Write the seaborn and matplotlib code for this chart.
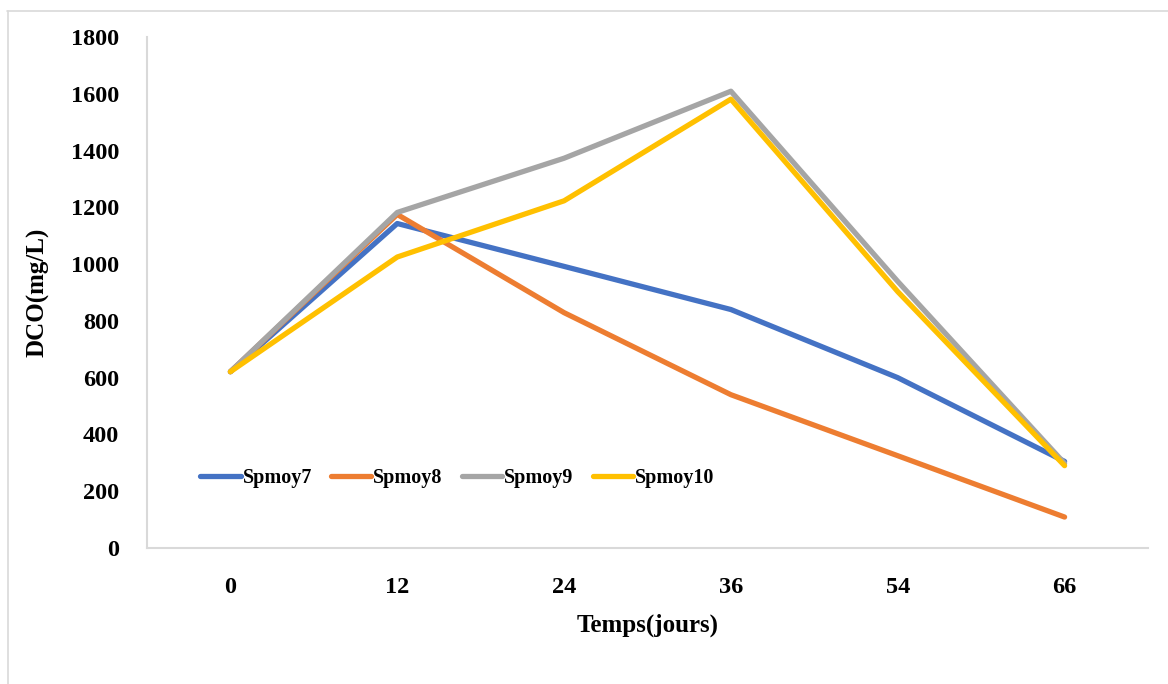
import matplotlib
matplotlib.use("Agg")
import matplotlib.pyplot as plt
import seaborn as sns
import pandas as pd
from matplotlib.lines import Line2D

days = ["0", "12", "24", "36", "54", "66"]
spmoy7 = [621, 1143, 992, 840, 600, 305]
spmoy8 = [621, 1175, 829, 540, 325, 109]
spmoy9 = [621, 1182, 1373, 1609, 939, 298]
spmoy10 = [621, 1025, 1223, 1581, 903, 290]
series_names = ["Spmoy7", "Spmoy8", "Spmoy9", "Spmoy10"]
colors = ["#4472C4", "#ED7D31", "#A5A5A5", "#FFC000"]
yticks = [0, 200, 400, 600, 800, 1000, 1200, 1400, 1600, 1800]

rows = []
for name, vals in zip(series_names, [spmoy7, spmoy8, spmoy9, spmoy10]):
    for d, v in zip(days, vals):
        rows.append({"Temps": d, "DCO": v, "Serie": name})
df = pd.DataFrame(rows)

sns.set_style("white")
plt.rcParams["font.family"] = ["Liberation Serif", "DejaVu Serif"]
plt.rcParams["font.weight"] = "bold"
plt.rcParams["text.color"] = "black"
plt.rcParams["axes.labelcolor"] = "black"
plt.rcParams["xtick.color"] = "black"
plt.rcParams["ytick.color"] = "black"

fig = plt.figure(figsize=(11.68, 6.84), dpi=100)
ax = fig.add_axes([147/1168, 1-548/684, (1148-147)/1168, (548-37)/684])

sns.lineplot(data=df, x="Temps", y="DCO", hue="Serie", hue_order=series_names,
             palette=colors, linewidth=3.8, ax=ax, sort=False, legend=False,
             solid_capstyle="round", solid_joinstyle="round")

ax.set_xlim(-0.5, len(days) - 0.5)
ax.set_ylim(0, 1800)
ax.set_yticks(yticks)
ax.set_xticks(range(len(days)))
ax.set_xticklabels(days)
ax.tick_params(axis="both", length=0, labelsize=17.5, labelcolor="black")
ax.tick_params(axis="y", pad=20)
ax.tick_params(axis="x", pad=21)
for lab in ax.get_xticklabels() + ax.get_yticklabels():
    lab.set_fontweight("bold")

for s in ["top", "right"]:
    ax.spines[s].set_visible(False)
for s in ["left", "bottom"]:
    ax.spines[s].set_color("#D9D9D9")
    ax.spines[s].set_linewidth(1.5)

ax.set_xlabel("Temps(jours)", fontsize=18, fontweight="bold", labelpad=11, color="black")
ax.set_ylabel("DCO(mg/L)", fontsize=18, fontweight="bold", color="black")
ax.yaxis.set_label_coords(-0.0975, 0.5)

handles = [Line2D([0], [0], color=c, lw=3.8, solid_capstyle="round") for c in colors]
leg = ax.legend(handles, series_names, loc="center", bbox_to_anchor=(0.31, 0.137),
                ncol=4, frameon=False, handlelength=2.0, handletextpad=0.1,
                columnspacing=0.95, prop={"size": 14.5, "weight": "bold"})
for t in leg.get_texts():
    t.set_color("black")

# partial figure frame (top and left edges)
fig.add_artist(Line2D([7/1168, 1], [1-10.5/684, 1-10.5/684], color="#D9D9D9", lw=1.2,
                      transform=fig.transFigure))
fig.add_artist(Line2D([7.5/1168, 7.5/1168], [0, 1-10.5/684], color="#D9D9D9", lw=1.2,
                      transform=fig.transFigure))

fig.savefig("out.png", dpi=100)
